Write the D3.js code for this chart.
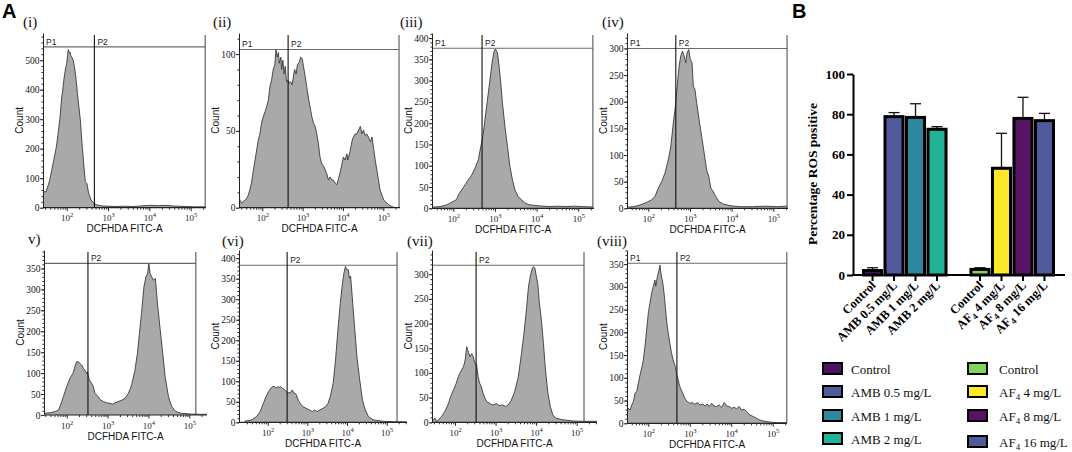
<!DOCTYPE html>
<html><head><meta charset="utf-8">
<script src="https://cdn.jsdelivr.net/npm/d3@7"></script>
<style>body{margin:0;background:#fff}svg{display:block}</style>
</head><body>
<svg id="c" width="1072" height="452"></svg>
<script>
// ---------- DATA ----------
// Flow cytometry histograms: [log10(DCFHDA FITC-A), Count]
const histI = [[1.42,55],[1.45,54],[1.5,54],[1.55,75],[1.59,94],[1.67,150],[1.75,206],[1.8,260],[1.84,308],[1.88,376],[1.9,393],[1.93,432],[1.97,470],[2.0,489],[2.02,515],[2.04,536],[2.06,525],[2.08,528],[2.1,515],[2.12,511],[2.16,500],[2.2,466],[2.23,430],[2.26,387],[2.33,297],[2.37,220],[2.41,150],[2.45,88],[2.49,82],[2.53,49],[2.59,26],[2.66,15],[2.74,9],[2.85,6],[3.0,5],[3.2,4],[3.4,5],[3.6,4],[3.8,6],[4.0,8],[4.2,7],[4.4,8],[4.55,6],[4.7,5],[4.9,4],[5.1,3],[5.35,3]];
const histII = [[1.42,5],[1.43,12.6],[1.44,5],[1.49,3],[1.53,4],[1.57,5],[1.61,6],[1.65,8],[1.69,11.5],[1.73,16],[1.78,24.5],[1.82,31],[1.86,37.5],[1.9,44],[1.94,48],[1.98,55],[2.02,59],[2.07,62.5],[2.11,66],[2.15,70],[2.19,79],[2.23,83],[2.27,90],[2.31,93],[2.34,103],[2.37,98],[2.4,101],[2.42,94],[2.46,98],[2.48,90],[2.51,96],[2.54,87],[2.57,92],[2.6,82],[2.64,83],[2.67,81],[2.7,82],[2.74,80],[2.77,85],[2.8,90],[2.84,87],[2.87,93],[2.92,95],[2.95,98],[2.99,97],[3.02,92],[3.06,86],[3.1,79],[3.14,72],[3.18,66],[3.23,59],[3.27,55],[3.31,53],[3.35,48],[3.39,42],[3.43,33],[3.47,29],[3.52,27],[3.56,24.5],[3.6,22],[3.64,18],[3.68,20],[3.72,18],[3.76,18],[3.81,16],[3.85,15],[3.89,19],[3.93,23],[3.97,28],[4.01,33],[4.05,31],[4.1,35],[4.12,31],[4.16,35],[4.2,40],[4.23,44],[4.26,46],[4.3,48],[4.34,48],[4.39,50.5],[4.43,53],[4.47,48],[4.51,50.5],[4.55,47],[4.59,48],[4.63,46],[4.68,43],[4.72,46],[4.76,38.6],[4.8,31],[4.84,24.5],[4.88,18],[4.92,11.5],[4.97,8],[5.01,5],[5.05,4],[5.09,3],[5.13,2],[5.21,0.7],[5.3,0],[5.39,0]];
const histIII = [[1.42,2],[1.55,3],[1.68,4],[1.84,8],[2.0,16],[2.08,21],[2.12,31],[2.2,43],[2.28,55],[2.36,67],[2.44,78],[2.52,94],[2.6,114],[2.66,145],[2.72,176],[2.78,224],[2.84,271],[2.9,318],[2.94,349],[2.98,369],[3.0,374],[3.02,373],[3.06,365],[3.1,333],[3.14,294],[3.18,247],[3.24,192],[3.3,145],[3.36,98],[3.42,67],[3.48,43],[3.56,27],[3.64,20],[3.72,12],[3.84,8],[4.08,5.5],[4.3,4],[4.5,5],[4.7,4],[4.9,5],[5.1,4],[5.35,3]];
const histIV = [[1.42,2],[1.48,2],[1.64,3],[1.8,6],[1.96,11],[2.08,16],[2.16,22],[2.24,38],[2.32,50],[2.4,66],[2.48,91],[2.54,116],[2.6,160],[2.65,191],[2.7,235],[2.74,267],[2.78,286],[2.82,295],[2.86,286],[2.9,273],[2.93,292],[2.97,298],[3.01,279],[3.05,273],[3.08,229],[3.12,223],[3.16,198],[3.22,166],[3.28,135],[3.34,104],[3.4,72],[3.45,60],[3.5,38],[3.56,31],[3.62,22],[3.7,12.5],[3.8,8],[3.96,5],[4.2,3],[4.5,3],[4.8,4],[5.1,3],[5.33,4]];
const histV = [[1.42,4],[1.45,4],[1.59,5.5],[1.71,8],[1.8,12],[1.85,24],[1.92,44],[2.0,68],[2.08,88],[2.15,99],[2.2,115],[2.24,127],[2.29,127],[2.33,122],[2.37,119],[2.41,111],[2.45,107],[2.49,99],[2.51,103],[2.55,84],[2.61,76],[2.65,68],[2.69,52],[2.73,48],[2.77,44],[2.82,36],[2.9,32],[2.98,29],[3.06,28],[3.12,26],[3.18,29],[3.26,32],[3.34,35],[3.43,40],[3.51,52],[3.59,72],[3.67,107],[3.73,147],[3.78,195],[3.83,243],[3.89,306],[3.94,330],[3.98,338],[4.01,362],[4.04,338],[4.08,330],[4.12,322],[4.17,326],[4.22,267],[4.28,211],[4.35,147],[4.41,91],[4.49,44],[4.57,20],[4.67,8],[4.81,4],[5.02,2.4],[5.26,1.6],[5.45,1.6]];
const histVI = [[1.42,3],[1.45,3],[1.6,6],[1.72,14],[1.81,26],[1.89,46],[1.96,63],[2.02,75],[2.08,83],[2.13,87],[2.17,87],[2.21,83],[2.25,87],[2.29,85],[2.32,87],[2.37,83],[2.43,79],[2.47,75],[2.51,72],[2.57,72],[2.62,79],[2.66,71],[2.69,71],[2.72,67],[2.77,54],[2.82,46],[2.89,38],[2.97,34],[3.06,30],[3.12,26],[3.18,30],[3.24,26],[3.31,30],[3.39,34],[3.46,38],[3.52,46],[3.58,63],[3.65,95],[3.71,152],[3.77,225],[3.83,290],[3.88,335],[3.92,363],[3.96,380],[3.99,372],[4.03,372],[4.06,351],[4.09,356],[4.13,307],[4.19,233],[4.25,160],[4.32,103],[4.39,54],[4.46,30],[4.54,14],[4.66,6],[4.91,2.4],[5.17,1.6],[5.5,1]];
const histVII = [[1.42,3],[1.46,5],[1.51,8],[1.55,1.3],[1.59,5],[1.67,11.5],[1.75,22],[1.84,38],[1.89,52],[1.96,65],[2.03,79],[2.08,92],[2.14,103],[2.21,113],[2.25,126],[2.29,153],[2.33,142],[2.37,133],[2.41,139],[2.45,133],[2.49,119],[2.53,118],[2.57,92],[2.61,79],[2.65,72],[2.69,59],[2.74,49],[2.78,42],[2.86,38],[2.94,35],[3.02,38],[3.09,34],[3.17,35],[3.25,32],[3.31,35],[3.39,45],[3.47,62],[3.56,92],[3.64,140],[3.7,180],[3.76,227],[3.81,274],[3.86,298],[3.91,313],[3.94,315],[3.97,312],[4.0,298],[4.04,281],[4.08,241],[4.13,207],[4.18,160],[4.23,106],[4.29,59],[4.35,32],[4.41,15],[4.49,8],[4.66,5],[4.9,2.7],[5.15,2],[5.5,2]];
const histVIII = [[1.42,28],[1.48,26],[1.52,33],[1.56,29],[1.6,40],[1.64,48],[1.68,66],[1.72,70],[1.76,88],[1.8,106],[1.84,121],[1.88,139],[1.92,169],[1.96,205],[2.0,242],[2.04,264],[2.08,286],[2.12,301],[2.16,315],[2.18,301],[2.22,323],[2.26,337],[2.28,348],[2.31,326],[2.35,308],[2.38,286],[2.41,257],[2.44,227],[2.48,198],[2.52,176],[2.56,154],[2.6,139],[2.65,125],[2.68,110],[2.72,95],[2.76,81],[2.83,66],[2.88,55],[2.94,48],[3.0,44],[3.06,45.5],[3.12,42],[3.18,45.5],[3.25,40],[3.31,42.5],[3.37,38],[3.42,42.5],[3.47,37],[3.53,44],[3.58,38],[3.65,37],[3.71,40],[3.77,35],[3.83,45.5],[3.89,38],[3.95,37],[4.01,33],[4.07,35],[4.13,32],[4.19,37],[4.25,29],[4.31,31],[4.37,26],[4.45,18],[4.53,15],[4.61,11],[4.69,7],[4.77,5],[4.86,3.7],[4.98,2.2],[5.14,1.5],[5.34,1.5]];

// Gate values per histogram: P2 lower bound (log10), upper bound (log10), gate height (count)
const gateLow  = [2.67, 2.64, 2.69, 2.66, 2.52, 2.49, 2.52, 2.69];
const gateHigh = [5.35, 5.39, 5.35, 5.33, 5.16, 5.26, 5.18, 5.34];
const gateLevel = [545, 103, 376, 300, 362, 383, 318, 352];
const yTickMax = [500, 100, 400, 300, 350, 400, 300, 350];
const yTickStep = [100, 50, 50, 50, 50, 50, 50, 50];
const panelNames = ['(i)', '(ii)', '(iii)', '(iv)', 'v)', '(vi)', '(vii)', '(viii)'];
const hasP1 = [true, true, true, true, false, false, false, true];
const xTickExps = [2, 3, 4, 5];

// Bar chart (B)
const barCategories = ['Control', 'AMB 0.5 mg/L', 'AMB 1 mg/L', 'AMB 2 mg/L', 'Control', 'AF4 4 mg/L', 'AF4 8 mg/L', 'AF4 16 mg/L'];
const barValues = [2.2, 78.8, 78.4, 72.5, 2.8, 53.1, 77.9, 76.8];
const barErrors = [1.4, 2.0, 6.8, 1.3, 0.8, 17.4, 10.5, 3.6];
const barColors = ['#4c1462', '#515a9b', '#2e889d', '#22b295', '#80d35b', '#fce82a', '#581364', '#505a9b'];
const barTicks = [0, 20, 40, 60, 80, 100];

// ---------- LAYOUT (pixels) ----------
const layout = [
  {lx:23, ly:27, left:43, right:206, p2:66.7, p5:190.7, base:207.7, top:33, yMax:592},
  {lx:213, ly:27, left:239, right:400, p2:262.3, p5:383.3, base:207.7, top:33, yMax:113.7},
  {lx:400, ly:27, left:432, right:594, p2:453.3, p5:578.3, base:208.3, top:33, yMax:412},
  {lx:602, ly:27, left:627, right:788, p2:648.3, p5:773.3, base:208.3, top:33, yMax:329},
  {lx:28, ly:244, left:44, right:207, p2:66.7, p5:189.3, base:415, top:250, yMax:394},
  {lx:222, ly:246, left:239, right:407, p2:267.7, p5:386.7, base:422.3, top:250, yMax:420},
  {lx:407, ly:246, left:432, right:597, p2:455, p5:576.7, base:422.3, top:250, yMax:349},
  {lx:597, ly:246, left:627, right:787, p2:648.3, p5:772.7, base:423.3, top:250, yMax:381}
];
const hists = [histI, histII, histIII, histIV, histV, histVI, histVII, histVIII];

const SANS = "'Liberation Sans', Arial, sans-serif";
const SERIF = "'Liberation Serif', 'Times New Roman', serif";
const svg = d3.select('#c');

svg.append('text').attr('x', 2).attr('y', 18).attr('font-family', SANS).attr('font-weight', 'bold')
  .attr('font-size', 20).text('A');
svg.append('text').attr('x', 792).attr('y', 18).attr('font-family', SANS).attr('font-weight', 'bold')
  .attr('font-size', 20).text('B');

const defs = svg.append('defs');

hists.forEach((data, i) => {
  const L = layout[i];
  const g = svg.append('g');
  const x = d3.scaleLog().domain([1e2, 1e5]).range([L.p2, L.p5]);
  const y = d3.scaleLinear().domain([0, L.yMax]).range([L.base, L.top]);
  const cid = 'clip' + i;
  defs.append('clipPath').attr('id', cid).append('rect')
    .attr('x', L.left).attr('y', L.top).attr('width', L.right - L.left).attr('height', L.base - L.top);

  const area = d3.area().x(d => x(Math.pow(10, d[0]))).y0(y(0)).y1(d => y(d[1]));
  const line = d3.line().x(d => x(Math.pow(10, d[0]))).y(d => y(d[1]));
  const hg = g.append('g').attr('clip-path', `url(#${cid})`);
  hg.append('path').datum(data).attr('d', area).attr('fill', '#a9a9a9');
  hg.append('path').datum(data).attr('d', line).attr('fill', 'none').attr('stroke', '#3a3a3a').attr('stroke-width', 0.9);

  // gates
  const gx = x(Math.pow(10, gateLow[i]));
  const gr = x(Math.pow(10, gateHigh[i]));
  const gy = y(gateLevel[i]);
  g.append('line').attr('x1', L.left).attr('x2', gr).attr('y1', gy).attr('y2', gy)
    .attr('stroke', '#6a6a6a').attr('stroke-width', 1.1);
  g.append('line').attr('x1', gx).attr('x2', gx).attr('y1', L.top + 2).attr('y2', L.base)
    .attr('stroke', '#111').attr('stroke-width', 1.1);
  g.append('line').attr('x1', gr).attr('x2', gr).attr('y1', L.top + 2).attr('y2', L.base)
    .attr('stroke', '#555').attr('stroke-width', 1.1);
  if (hasP1[i]) {
    g.append('text').attr('x', L.left + 3).attr('y', gy - 2).attr('font-family', SANS)
      .attr('font-size', 8.5).attr('fill', '#222').text('P1');
  }
  g.append('text').attr('x', gx + 3).attr('y', gy - 2).attr('font-family', SANS)
    .attr('font-size', 8.5).attr('fill', '#222').text('P2');

  // y axis
  const yt = d3.range(0, yTickMax[i] + 0.001, yTickStep[i]);
  const ya = g.append('g').attr('transform', `translate(${L.left},0)`)
    .call(d3.axisLeft(y).tickValues(yt).tickSize(3).tickSizeOuter(0).tickFormat(d3.format('d')));
  ya.select('.domain').attr('stroke', '#222');
  ya.selectAll('.tick line').attr('stroke', '#222');
  ya.selectAll('text').attr('font-family', SERIF).attr('font-size', 9.5).attr('fill', '#111').attr('x', -3.5);
  const minorY = d3.range(0, L.yMax, yTickStep[i] / 5);
  g.append('g').attr('transform', `translate(${L.left},0)`)
    .call(d3.axisLeft(y).tickValues(minorY).tickSize(1.6).tickFormat(''))
    .call(s => s.select('.domain').remove())
    .selectAll('line').attr('stroke', '#333');

  // x axis
  g.append('line').attr('x1', L.left).attr('x2', L.right).attr('y1', L.base).attr('y2', L.base)
    .attr('stroke', '#222').attr('stroke-width', 1.2);
  const xa = g.append('g').attr('transform', `translate(0,${L.base})`)
    .call(d3.axisBottom(x).tickValues(xTickExps.map(e => Math.pow(10, e))).tickSize(3.5).tickFormat(''));
  xa.select('.domain').remove();
  xa.selectAll('.tick line').attr('stroke', '#222');
  xa.selectAll('.tick').each(function(d) {
    const t = d3.select(this).append('text').attr('y', 13.5).attr('text-anchor', 'middle')
      .attr('font-family', SERIF).attr('font-size', 9).attr('fill', '#222');
    t.append('tspan').text('10');
    t.append('tspan').attr('dy', -4).attr('font-size', 6.5).text(Math.round(Math.log10(d)));
  });
  const minorX = [];
  [1, 2, 3, 4, 5].forEach(e => { for (let k = 2; k <= 9; k++) minorX.push(k * Math.pow(10, e)); });
  const mx = minorX.filter(v => x(v) > L.left + 1 && x(v) < L.right);
  g.append('g').attr('transform', `translate(0,${L.base})`)
    .call(d3.axisBottom(x).tickValues(mx).tickSize(2).tickFormat(''))
    .call(s => s.select('.domain').remove())
    .selectAll('line').attr('stroke', '#333');

  g.append('text').attr('x', (L.left + L.right) / 2).attr('y', L.base + 24.5).attr('text-anchor', 'middle')
    .attr('font-family', SANS).attr('font-size', 10).attr('fill', '#111').text('DCFHDA FITC-A');
  g.append('text').attr('transform', `translate(${L.left - 20},${(L.base + L.top) / 2}) rotate(-90)`)
    .attr('text-anchor', 'middle').attr('font-family', SANS).attr('font-size', 10).attr('fill', '#111').text('Count');
  svg.append('text').attr('x', L.lx).attr('y', L.ly).attr('font-family', SERIF).attr('font-size', 15)
    .attr('fill', '#111').text(panelNames[i]);
});

// ---------- BAR CHART ----------
const bx0 = 853, bx1 = 1065;
const slots = ['s0', 's1', 's2', 's3', 'gap', 's5', 's6', 's7', 's8'];
const barKeys = ['s0', 's1', 's2', 's3', 's5', 's6', 's7', 's8'];
const xb = d3.scaleBand().domain(slots).range([862, 1055]).paddingInner(0.02);
const yb = d3.scaleLinear().domain([0, 100]).range([275, 74]);
const bg = svg.append('g');

barValues.forEach((v, i) => {
  const bxp = xb(barKeys[i]);
  const err = v + barErrors[i];
  const cx = bxp + xb.bandwidth() / 2;
  bg.append('line').attr('x1', cx).attr('x2', cx).attr('y1', yb(v)).attr('y2', yb(err))
    .attr('stroke', '#111').attr('stroke-width', 1.3);
  bg.append('line').attr('x1', cx - 5.5).attr('x2', cx + 5.5).attr('y1', yb(err)).attr('y2', yb(err))
    .attr('stroke', '#111').attr('stroke-width', 1.3);
  bg.append('rect').attr('x', bxp + 1.5).attr('y', yb(v)).attr('width', xb.bandwidth() - 3)
    .attr('height', yb(0) - yb(v)).attr('fill', barColors[i]).attr('stroke', '#000').attr('stroke-width', 3);
});

const yba = bg.append('g').attr('transform', `translate(${bx0},0)`)
  .call(d3.axisLeft(yb).tickValues(barTicks).tickSize(6).tickSizeOuter(0));
yba.select('.domain').attr('stroke', '#000').attr('stroke-width', 2);
yba.selectAll('.tick line').attr('stroke', '#000').attr('stroke-width', 2);
yba.selectAll('text').attr('font-family', SERIF).attr('font-weight', 'bold').attr('font-size', 13)
  .attr('fill', '#000').attr('x', -8);
bg.append('line').attr('x1', bx0 - 1).attr('x2', bx1).attr('y1', yb(0)).attr('y2', yb(0))
  .attr('stroke', '#000').attr('stroke-width', 2);
barKeys.forEach((k, i) => {
  const cx = xb(k) + xb.bandwidth() / 2;
  bg.append('line').attr('x1', cx).attr('x2', cx).attr('y1', yb(0)).attr('y2', yb(0) + 6)
    .attr('stroke', '#000').attr('stroke-width', 2);
  const t = bg.append('text').attr('transform', `translate(${cx + 4},${yb(0) + 11}) rotate(-45)`)
    .attr('text-anchor', 'end').attr('font-family', SERIF).attr('font-weight', 'bold').attr('font-size', 12.5);
  const name = barCategories[i];
  if (name.startsWith('AF4')) {
    t.append('tspan').text('AF');
    t.append('tspan').attr('dy', 3).attr('font-size', 9).text('4');
    t.append('tspan').attr('dy', -3).text(name.slice(3));
  } else t.text(name);
});
bg.append('text').attr('transform', `translate(817,174) rotate(-90)`).attr('text-anchor', 'middle')
  .attr('font-family', SERIF).attr('font-weight', 'bold').attr('font-size', 13.5).text('Percentage ROS positive');

// Legend
const legX = [822, 967];
const legY = [[369, 392, 416, 439], [369, 392, 416, 442]];
barCategories.forEach((name, i) => {
  const col = i < 4 ? 0 : 1, row = i % 4;
  const lx = legX[col], ly = legY[col][row];
  svg.append('rect').attr('x', lx + 1).attr('y', ly - 6).attr('width', 19).attr('height', 11)
    .attr('fill', barColors[i]).attr('stroke', '#000').attr('stroke-width', 2);
  const t = svg.append('text').attr('x', lx + (col === 0 ? 29 : 32)).attr('y', ly + 5)
    .attr('font-family', SERIF).attr('font-size', 13).attr('fill', '#111');
  if (name.startsWith('AF4')) {
    t.append('tspan').text('AF');
    t.append('tspan').attr('dy', 3).attr('font-size', 9).text('4');
    t.append('tspan').attr('dy', -3).text(name.slice(3));
  } else t.text(name);
});
</script>
</body></html>
